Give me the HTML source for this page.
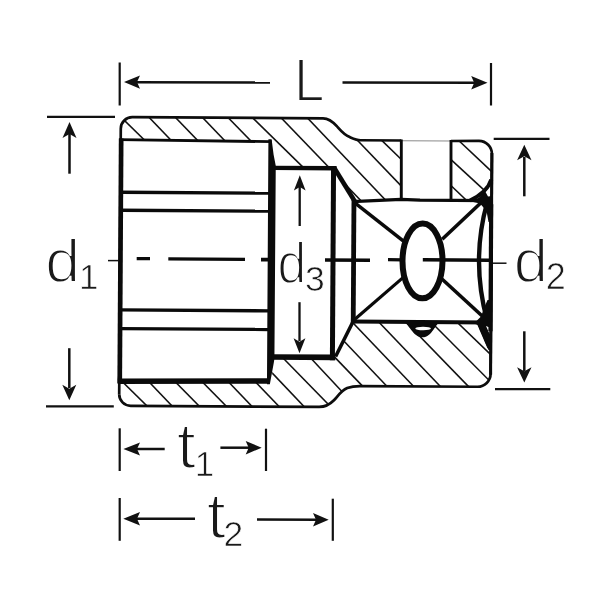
<!DOCTYPE html>
<html><head><meta charset="utf-8"><title>Socket dimensions</title>
<style>
html,body{margin:0;padding:0;background:#fff;}
body{width:600px;height:600px;overflow:hidden;font-family:"Liberation Sans",sans-serif;}
svg{display:block;filter:blur(0.45px);}
text{font-family:"Liberation Sans",sans-serif;fill:#1a1a1a;stroke:#fff;stroke-width:1.9px;paint-order:fill stroke;}
text.sub{stroke-width:0.7px;}
</style></head><body>
<svg width="600" height="600" viewBox="0 0 600 600">
<defs>
<clipPath id="ct"><path d="M120.0,129.7 A11.5,11.5 0 0 1 131.5,118.2 L322.2,118.2 C328,118.2 332,121.5 336,126 C340,130.5 343,134.5 349,136.8 C353,138.5 356,139.9 360,139.9 L400.59,139.90 L400.94,198.70 L354.65,200.98 L333.96,167.80 L274.96,168.14 L270.10,141.17 L120.0,140.85 Z M450.30,140.11 L478.27,139.9 A13,13 0 0 1 491.27,152.9 L491.33,178.37 Q487.10,190.89 471.65,198.99 L450.65,199.11 Z"/></clipPath>
<clipPath id="cb"><path d="M120.0,395.3 A11.5,11.5 0 0 0 131.5,406.8 L319.9,406.8 C326,406.8 331,404 335,399.8 C339,395.5 342,390.5 348,387.8 C352,386.2 356,385.7 361,385.7 L478.27,385.7 A13,13 0 0 0 491.27,372.7 L491.12,346.88 L479.37,321.94 L354.36,321.18 L336.57,356.29 L275.07,357.15 L271.72,381.67 L120.0,381.7 Z"/></clipPath>
</defs>
<rect width="600" height="600" fill="#fff"/>

<g transform="rotate(0.338 300 260)">
<!-- hatching -->
<g clip-path="url(#ct)" stroke="#111" stroke-width="1.55" fill="none">
<line x1="115.55" y1="113.69" x2="151.61" y2="148.56"/>
<line x1="141.21" y1="111.03" x2="177.25" y2="148.13"/>
<line x1="167.48" y1="110.89" x2="203.67" y2="147.95"/>
<line x1="193.80" y1="109.96" x2="229.84" y2="147.07"/>
<line x1="219.23" y1="109.88" x2="255.71" y2="146.85"/>
<line x1="243.34" y1="109.94" x2="308.06" y2="172.54"/>
<line x1="272.99" y1="110.41" x2="367.51" y2="207.44"/>
<line x1="299.10" y1="110.10" x2="392.46" y2="207.15"/>
<line x1="347.73" y1="130.76" x2="408.42" y2="193.21"/>
<line x1="374.04" y1="133.20" x2="408.56" y2="166.31"/>
<line x1="443.83" y1="178.37" x2="471.87" y2="204.76"/>
<line x1="442.23" y1="151.33" x2="492.47" y2="196.98"/>
<line x1="450.53" y1="132.57" x2="499.04" y2="177.86"/>
</g>
<g clip-path="url(#cb)" stroke="#111" stroke-width="1.55" fill="none">
<line x1="117.13" y1="376.96" x2="153.75" y2="412.59"/>
<line x1="144.39" y1="377.25" x2="180.70" y2="414.78"/>
<line x1="170.67" y1="377.22" x2="207.83" y2="414.50"/>
<line x1="197.67" y1="377.06" x2="234.83" y2="414.34"/>
<line x1="223.89" y1="376.78" x2="260.20" y2="414.31"/>
<line x1="250.37" y1="376.25" x2="287.23" y2="414.13"/>
<line x1="264.86" y1="364.81" x2="313.18" y2="415.13"/>
<line x1="277.96" y1="352.35" x2="336.78" y2="411.87"/>
<line x1="305.35" y1="351.70" x2="350.01" y2="398.98"/>
<line x1="328.21" y1="349.69" x2="370.10" y2="392.74"/>
<line x1="332.12" y1="328.13" x2="395.77" y2="394.13"/>
<line x1="346.74" y1="315.75" x2="422.39" y2="393.96"/>
<line x1="372.03" y1="314.21" x2="449.09" y2="393.79"/>
<line x1="397.86" y1="312.81" x2="477.15" y2="393.57"/>
<line x1="431.91" y1="321.72" x2="496.71" y2="386.10"/>
<line x1="451.68" y1="315.79" x2="495.23" y2="357.17"/>
</g>

<!-- outer profile -->
<g fill="none" stroke="#0d0d0d" stroke-width="2.7" stroke-linejoin="round" stroke-linecap="butt">
<path d="M120.0,395.3 L120.0,129.7 A11.5,11.5 0 0 1 131.5,118.2 L322.2,118.2 C328,118.2 332,121.5 336,126 C340,130.5 343,134.5 349,136.8 C353,138.5 356,139.9 360,139.9 L400.59,139.90"/>
<path d="M450.30,140.11 L478.27,139.9 A13,13 0 0 1 491.27,152.9 L491.27,372.7 A13,13 0 0 1 478.27,385.7 L361,385.7 C356,385.7 352,386.2 348,387.8 C342,390.5 339,395.5 335,399.8 C331,404 326,406.8 319.9,406.8 L131.5,406.8 A11.5,11.5 0 0 1 120.0,395.3"/>
</g>
<line x1="401" y1="140.20000000000002" x2="451" y2="140.20000000000002" stroke="#8a8a8a" stroke-width="1"/>

<g fill="none" stroke="#0a0a0a" stroke-linecap="butt">
<!-- hex cavity -->
<line x1="120.45" y1="139.5" x2="120.45" y2="384.3" stroke-width="4.7"/>
<line x1="118.5" y1="140.7" x2="271" y2="141.8" stroke-width="2.9"/>
<line x1="118.5" y1="382.3" x2="270.3" y2="381.2" stroke-width="5.5"/>
<line x1="120" y1="193.3" x2="270" y2="193.3" stroke-width="3.3"/>
<line x1="120" y1="211.3" x2="270" y2="211.3" stroke-width="3.3"/>
<line x1="120" y1="311" x2="270" y2="311" stroke-width="3.3"/>
<line x1="120" y1="329.7" x2="270" y2="329.7" stroke-width="3.3"/>
<!-- wall hex/d3 with tapered ends -->
<polygon points="267.7,139.4 270.9,139.4 273,155 275.2,166 275,359 274.4,363 270.6,384.4 267.7,384.4" fill="#0a0a0a" stroke="none"/>
<!-- d3 cavity -->
<line x1="272" y1="168" x2="336" y2="168" stroke-width="4.4"/>
<line x1="272" y1="357.2" x2="336" y2="357.2" stroke-width="5.6"/>
<line x1="333" y1="166" x2="333" y2="360" stroke-width="5"/>
<line x1="333.45" y1="167.30" x2="354.86" y2="201.67" stroke-width="4.6"/>
<line x1="336.17" y1="356.29" x2="353.96" y2="320.18" stroke-width="3.6"/>
<!-- square drive -->
<line x1="353.6" y1="199.5" x2="353.6" y2="323" stroke-width="4.8"/>
<polyline points="351.66,201.29 400.64,198.70 419.65,199.49 488.65,199.48" stroke-width="3.2"/>
<line x1="352" y1="321.3" x2="489" y2="321.3" stroke-width="4"/>
<!-- cross hole -->
<line x1="400.59" y1="139" x2="400.94" y2="199.6" stroke-width="2.9"/>
<line x1="450.29" y1="139" x2="450.64" y2="199.6" stroke-width="2.9"/>
<!-- diagonals -->
<line x1="355.17" y1="203.17" x2="403.39" y2="240.59" stroke-width="3.5"/>
<line x1="485.63" y1="196.90" x2="442.08" y2="238.36" stroke-width="3.6"/>
<line x1="354.35" y1="319.68" x2="403.10" y2="276.99" stroke-width="3.2"/>
<line x1="486.35" y1="318.40" x2="441.51" y2="277.67" stroke-width="3.6"/>
<!-- ball ellipse -->
<ellipse cx="422.5" cy="260.2" rx="20" ry="37.4" stroke-width="6"/>
<!-- right side: arc, wall, corner fills -->
<path d="M486.66,201.90 Q471.00,259.49 487.35,318.90" stroke-width="4.4"/>
<line x1="490.87" y1="203" x2="490.87" y2="330" stroke-width="4.2"/>
<line x1="491.27" y1="151.9" x2="491.27" y2="373.7" stroke-width="3"/>
<path d="M490.83,178.37 Q487.10,190.89 469.65,199.50" stroke-width="4"/>
<polygon points="470.65,200.49 478.63,196.44 484.59,189.91 487.63,195.39 491.62,194.87 491.78,220.87 488.28,220.89 486.21,209.90 479.67,202.44" fill="#0a0a0a" stroke="none"/>
<line x1="478.87" y1="321.45" x2="489.82" y2="346.38" stroke-width="4"/>
<polygon points="474.37,322.47 481.33,315.43 484.78,305.91 487.74,298.89 492.24,298.87 492.40,325.87 488.70,325.89 486.39,324.90 490.04,332.88 492.44,332.87 492.53,348.87 489.03,348.89 478.38,323.95" fill="#0a0a0a" stroke="none"/>
<!-- detent -->
<path d="M402.96,320.89 C409.37,322.36 412.96,336.64 422.96,336.58 C432.96,336.52 435.37,322.20 441.86,320.67 Z" fill="#0a0a0a" stroke="none"/>
<ellipse cx="423.5" cy="327.8" rx="7.8" ry="1.7" fill="#fff" stroke="none"/>
</g>

<!-- centre line -->
<g stroke="#0a0a0a" fill="none">
<line x1="136.7" y1="259.6" x2="150" y2="259.6" stroke-width="3.2"/>
<line x1="168.3" y1="259.6" x2="245" y2="259.6" stroke-width="3.2"/>
<line x1="261" y1="259.9" x2="270" y2="259.9" stroke-width="3.8"/>
<line x1="325" y1="259.8" x2="370" y2="259.8" stroke-width="3.6"/>
<line x1="388" y1="259.2" x2="403" y2="259.2" stroke-width="3.3"/>
<line x1="422.8" y1="259.1" x2="489.5" y2="259.1" stroke-width="3.4"/>
</g>
</g>

<!-- centre ticks -->
<line x1="108" y1="260.6" x2="118.5" y2="260.6" stroke="#111" stroke-width="1.5"/>
<line x1="493" y1="263.2" x2="506.5" y2="263.2" stroke="#111" stroke-width="1.5"/>

<!-- dimension lines -->
<g stroke="#111" stroke-width="2.2" fill="none">
<line x1="119.7" y1="62.5" x2="119.7" y2="105.5"/>
<line x1="491" y1="63" x2="491" y2="105.5"/>
<line x1="47" y1="116.8" x2="115" y2="116.8"/>
<line x1="46" y1="406.4" x2="113.8" y2="406.4"/>
<line x1="493.7" y1="138.8" x2="549.5" y2="138.8"/>
<line x1="495" y1="389.1" x2="550.3" y2="389.1"/>
<line x1="119.7" y1="428.3" x2="119.7" y2="471"/>
<line x1="266" y1="428.7" x2="266" y2="471"/>
<line x1="119.7" y1="498" x2="119.7" y2="540.8"/>
<line x1="332.8" y1="498.7" x2="332.8" y2="540.8"/>
</g>
<g stroke="#111" stroke-width="2.5" fill="none">
<line x1="136" y1="82.2" x2="270" y2="82.6"/>
<line x1="342.5" y1="82.6" x2="475" y2="82.7"/>
<line x1="69.5" y1="134" x2="69.5" y2="173.7"/>
<line x1="69.3" y1="348.2" x2="69.3" y2="388"/>
<line x1="524.3" y1="157" x2="524.3" y2="196.3"/>
<line x1="524.3" y1="331.3" x2="524.3" y2="371"/>
<line x1="299.7" y1="187" x2="299.7" y2="226" stroke-width="2.3"/>
<line x1="299.5" y1="302.2" x2="299.5" y2="341" stroke-width="2.3"/>
<line x1="136" y1="449" x2="164.7" y2="449"/>
<line x1="220.4" y1="447.7" x2="250" y2="447.7"/>
<line x1="136" y1="518.7" x2="195" y2="518.8"/>
<line x1="257" y1="519.5" x2="317" y2="519.7"/>
</g>
<g fill="#111" stroke="none">
<polygon points="124.0,82.1 140.0,75.5 137.0,82.1 140.0,88.7"/>
<polygon points="487.5,82.7 471.2,75.9 474.2,82.7 471.2,89.5"/>
<polygon points="69.5,122.0 62.5,138.0 69.5,134.0 76.5,138.0"/>
<polygon points="69.3,400.2 62.3,384.7 69.3,388.7 76.3,384.7"/>
<polygon points="524.3,144.7 517.1,160.3 524.3,156.3 531.5,160.3"/>
<polygon points="524.3,382.4 517.1,367.2 524.3,371.2 531.5,367.2"/>
<polygon points="299.8,175.2 293.9,190.6 299.8,187.1 305.6,190.6"/>
<polygon points="299.5,353.3 293.6,338.3 299.5,341.8 305.4,338.3"/>
<polygon points="123.4,449.0 140.0,442.5 137.0,449.0 140.0,455.5"/>
<polygon points="261.7,447.7 245.7,441.0 248.7,447.7 245.7,454.4"/>
<polygon points="123.3,518.7 140.0,512.0 137.0,518.7 140.0,525.4"/>
<polygon points="328.7,519.7 313.0,512.9 316.0,519.7 313.0,526.5"/>
</g>

<!-- labels -->
<g opacity="0.999">
<text transform="translate(294.1,100.5) scale(0.9,1)" font-size="60.8">L</text>
<text transform="translate(45.3,281.6) scale(1.02,1)" font-size="61.5">d</text>
<text class="sub" x="79" y="289.2" font-size="35">1</text>
<text transform="translate(513.8,281.6) scale(1.0,1)" font-size="61.5">d</text>
<text class="sub" x="545.8" y="289.2" font-size="36">2</text>
<text transform="translate(277.4,282.5) scale(0.9,1)" font-size="57.5">d</text>
<text class="sub" x="305" y="291" font-size="35.5">3</text>
<text transform="translate(176.7,467.6) scale(1.06,1)" font-size="65">t</text>
<text class="sub" x="194.8" y="475.8" font-size="35">1</text>
<text transform="translate(206.7,537.6) scale(1.06,1)" font-size="65">t</text>
<text class="sub" x="223.5" y="546.2" font-size="35.5">2</text>
</g>
</svg>
</body></html>
